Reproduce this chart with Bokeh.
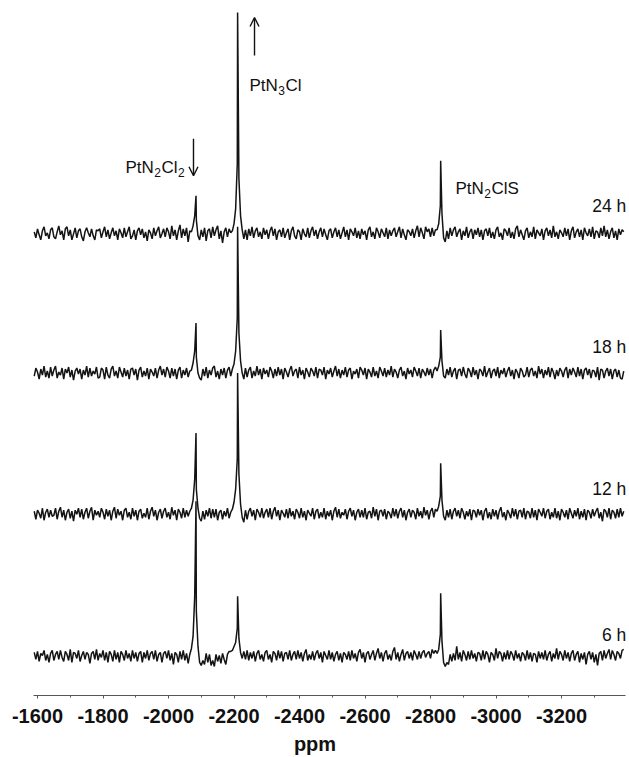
import numpy as np
from bokeh.plotting import figure
from bokeh.models import Range1d, FixedTicker, Arrow, OpenHead
from bokeh.core.properties import value
from bokeh.embed import file_html
from bokeh.resources import INLINE

# ---------------- data ----------------
ppm_first = -1590
ppm_step = -5

noise_24 = [2, -4, 5, -1, -6, 3, 7, -2, 1, -5,
            4, 6, -3, -5, 2, 8, -1, 3, -6, 5,
            7, -2, 4, -6, 0, 6, -4, 3, 5, -3,
            -7, 2, 6, 1, -3, 5, -2, -6, 4, 3,
            5, -4, 2, 7, -3, 4, -5, 1, 6, -2,
            3, -6, 5, 1, -4, 6, -3, 2, 7, -5,
            -2, 4, -6, 3, 6, -1, 5, -4, 2, -7,
            4, 1, -5, 6, -2, 3, 7, -4, 0, 5,
            -3, 6, 2, -5, 8, -2, 4, -6, 3, 9,
            -4, 5, -2, 6, -8, 3, 2, 8, 18, 14,
            -2, -6, 4, -3, 6, -7, 3, 5, -4, 7,
            -2, 4, 8, -5, 3, -9, 2, 6, -3, 5,
            1, 3, 10, 25, 70, 55, 18, 4, -5, 4,
            -6, 5, -2, 7, -4, 3, 6, -3, 2, -5,
            6, -1, 4, -5, 3, 7, -2, 5, -6, 2,
            4, -3, 6, -4, 1, 5, -6, 3, 7, -2,
            -5, 4, 2, -6, 5, 0, -3, 6, -4, 3,
            7, -2, 4, -5, 2, 6, -3, 5, -1, -6,
            3, 5, -4, 2, 6, -3, 4, -5, 1, 7,
            -3, 4, -6, 5, 2, -2, 6, -4, 3, -5,
            5, -1, 3, -6, 4, 7, -3, 2, -5, 6,
            2, -4, 5, 1, -3, 6, -5, 4, -2, 3,
            6, -3, 2, 7, -4, 5, -1, -6, 4, 2,
            -2, 5, -4, 3, 8, -3, 6, 1, -5, 7,
            2, 5, -3, 6, -2, 4, 4, 10, 28, 20,
            -4, -8, 3, -5, 6, -2, 4, 7, -3, 2,
            5, -6, 3, -2, 7, -4, 2, 5, -5, 4,
            -1, 6, -3, 4, -6, 3, 5, -2, 6, -4,
            2, -5, 4, 7, -3, 1, -6, 5, 3, -2,
            6, -4, 2, -5, 5, 8, -3, 4, -1, -6,
            3, 6, -4, 2, -3, 7, -5, 4, 1, -2,
            5, -6, 3, 6, -2, 4, -4, 8, -3, 2,
            -5, 4, 1, -3, 6, -2, 5, -6, 3, 7,
            -4, 2, 5, -3, 4, -6, 6, 1, -2, 5,
            -3, 7, -5, 3, 2, -4, 6, -2, 8, -3,
            4, -5, 2, 6, -4, 3, -6, 5, -1, 4,
            2]

noise_18 = [-3, 5, 1, -6, 4, -2, 7, -4, 2, -5,
            6, -3, 3, 7, -5, 1, -2, 5, -6, 4,
            0, 6, -4, 3, -7, 2, 5, -1, 4, -6,
            3, -2, 7, -4, 5, -3, 2, -1, 6, -5,
            -4, 5, 3, -6, 6, -2, -5, 4, 7, -3,
            2, -5, 6, 1, -4, 5, -3, 3, -6, 4,
            5, -2, 4, -7, 3, 6, -4, 2, -3, 5,
            -6, 4, 1, -3, 5, -5, 3, 7, -2, 4,
            -4, 6, 2, -5, 5, -3, 4, -6, 3, 6,
            -5, 3, -2, 5, -4, 2, 3, 10, 22, 16,
            0, -5, -7, 4, -3, 6, -5, 3, -2, 5,
            7, -4, 2, -6, 4, -2, 5, -5, 3, 6,
            -3, 4, 9, 22, 55, 40, 12, 0, -6, 5,
            -4, 3, 6, -5, 2, -3, 7, -2, 4, -6,
            5, -1, 3, -4, 6, 2, -5, 4, -3, 6,
            -2, 4, -6, 5, 1, -4, 3, 7, -3, 2,
            4, -5, 6, -2, 3, -6, 5, 1, -4, 5,
            2, -3, 6, -5, 4, 3, -2, 6, -6, 3,
            -1, 5, -4, 2, 7, -3, 4, -5, 3, -2,
            6, -4, 3, 5, -6, 2, -1, 4, -5, 6,
            3, -2, 5, -6, 4, 1, -4, 6, -3, 2,
            -5, 6, 2, -3, 5, -4, 3, -2, 7, -4,
            4, 1, -5, 3, 6, -3, 2, -6, 5, -1,
            3, -4, 6, 2, -3, 5, -5, 4, 1, -3,
            5, -2, 4, -5, 3, 6, 2, 7, 16, 12,
            -3, -5, 4, -2, 6, -4, 2, 5, -6, 3,
            4, -3, 6, -1, -5, 5, 2, -4, 6, -2,
            3, -6, 4, 2, -3, 7, -4, 1, 5, -5,
            2, 4, -3, 6, -5, 3, -1, 5, -4, 2,
            6, -3, 3, -6, 4, 1, -5, 5, 2, -4,
            -2, 6, -4, 3, 5, -3, 2, -5, 7, -1,
            4, -5, 3, -2, 6, -4, 5, 1, -6, 3,
            -3, 5, 2, -4, 3, 6, -5, 4, -2, 5,
            1, -4, 6, -3, 4, -6, 3, 5, -2, 4,
            -5, 3, 2, -4, 6, -7, 4, 3, -5, 2,
            5, -3, 4, -6, 2, 4, -4, 3, -5, -6,
            2]

noise_12 = [3, -5, 4, 1, -4, 6, -6, 2, 5, -3,
            4, -2, -1, 6, -5, 3, 7, -3, 4, -6,
            2, 5, -4, 3, -7, 4, 0, 6, -3, 5,
            -5, 2, 6, -4, 3, 7, -6, 4, -1, 3,
            -3, 6, 2, -5, 5, -2, 4, -6, 3, 7,
            -4, 5, -1, 3, -6, 4, 6, -3, 2, -5,
            6, -2, 4, -6, 3, 5, -4, 1, -3, 6,
            -5, 3, 7, -2, 4, -6, 2, 5, -4, 3,
            6, -3, 2, -5, 7, -1, 4, -6, 5, 2,
            -4, 6, -3, 4, -2, 3, 6, 14, 35, 25,
            6, -4, -7, 3, -5, 4, -2, 6, -4, 5,
            -3, 5, -6, 2, 4, -5, 3, -2, 6, -4,
            2, 5, 12, 25, 55, 40, 10, -3, -8, 4,
            -5, 3, 6, -2, 4, -6, 5, 2, -3, 6,
            -4, 2, 5, -3, 6, -5, 3, 7, -2, 4,
            -6, 4, 1, -3, 5, -4, 6, -2, 3, -5,
            5, 2, -4, 6, -3, 3, -6, 4, 1, -2,
            6, -5, 3, 5, -4, 2, -3, 6, -5, 3,
            -2, 4, -6, 3, 7, -3, 5, -4, 2, -1,
            5, -5, 3, 6, -2, 4, -6, 2, 5, -3,
            4, -3, 6, -5, 2, 3, -4, 7, -2, 5,
            -6, 3, 4, -2, 5, -5, 3, 1, -4, 6,
            -2, 5, -4, 3, 6, -3, 4, -6, 2, 5,
            -3, 4, 2, -5, 6, -2, 3, -4, 7, -1,
            4, -5, 3, 6, -3, 5, 3, 8, 18, 14,
            -2, -6, 4, -3, 5, -5, 3, 6, -2, 4,
            -4, 6, 2, -5, 3, -2, 5, -6, 4, 3,
            -3, 5, -1, 4, -6, 3, 6, -4, 2, -5,
            5, -2, 4, -5, 3, 7, -3, 2, -6, 4,
            1, -4, 6, -2, 5, -5, 3, 4, -3, 6,
            -5, 3, 2, -4, 6, -3, 4, -6, 5, 2,
            -2, 6, -4, 3, 5, -5, 2, -3, 6, -4,
            3, -6, 5, 2, -3, 4, -5, 6, 1, -4,
            4, -2, 6, -5, 3, -3, 5, -6, 4, 2,
            -4, 5, -2, 3, 6, -4, 2, -7, 5, 3,
            -3, 6, -5, 4, 2, -4, 5, -3, 6, -2,
            3]

noise_6 = [4, -3, 5, -5, 3, 1, 6, -4, 2, -6,
           3, 6, -4, 2, 5, -3, 6, -1, -5, 5,
           2, -4, 7, -6, 4, 3, -2, 6, -5, 1,
           5, -3, 4, 2, -7, 3, 5, -3, 7, -4,
           3, -1, 6, -4, 4, -6, 5, 2, -5, 6,
           -3, 4, -6, 5, 2, -4, 6, -2, 3, -5,
           6, -2, 4, -5, 3, 5, -6, 4, -2, 6,
           -4, 3, 5, -3, 6, -5, 2, 4, -6, 3,
           5, -2, 6, -4, 3, -8, 4, 2, -6, 5,
           -3, 6, -4, 3, -7, 2, 8, 20, 60, 45,
           10, -6, -9, -4, -8, 3, -6, 2, -9, -4,
           -10, 2, -5, 1, -7, 3, -3, -8, 2, 5,
           5, 6, 10, 14, 28, 18, 4, -2, 5, -3,
           6, -4, 4, -2, 5, -5, 3, 6, -3, 2,
           -5, 4, 6, -3, 2, -6, 5, 3, -4, 6,
           -2, 5, -5, 3, 4, -3, 6, -4, 2, 5,
           -3, 6, -2, 4, -5, 3, 7, -4, 2, -3,
           5, -4, 3, 6, -2, 4, -6, 5, 1, -3,
           6, -3, 4, -5, 2, 5, -4, 3, -6, 4,
           2, -3, 5, -4, 6, -2, 3, -5, 4, 7,
           -2, 4, -6, 3, 5, -3, 2, 6, -4, 3,
           8, -2, 4, -5, 3, 6, -3, 2, -4, 5,
           9, -3, 4, -5, 2, 7, -4, 3, 5, -2,
           4, -4, 6, 2, -3, 5, -2, 4, 6, -1,
           3, 5, -2, 7, 3, 6, 3, 7, 22, 15,
           -6, -10, -6, -8, 2, -5, 3, -4, 10, -3,
           4, -5, 6, 2, -4, 5, -3, 6, -2, 3,
           -5, 4, 3, -4, 6, -3, 5, 2, -6, 4,
           2, -4, 8, -2, 5, 3, -5, 4, -3, 6,
           -3, 5, 2, -4, 6, -2, 3, -5, 4, 2,
           -4, 6, -3, 4, -5, 3, 2, -6, 5, -2,
           4, -3, 6, -4, 2, 5, -5, 3, -2, 8,
           -3, 5, 2, -4, 6, -2, 4, -5, 3, 6,
           -4, 2, 5, -6, 3, -3, 4, -8, 2, 5,
           -3, 4, -6, 2, -9, 3, 5, -4, 6, -2,
           3, 7, -3, 6, 2, -4, 5, 3, -2, 6,
           7]

# peak apexes (ppm): PtN2Cl2, PtN3Cl, PtN2ClS
peak_ppm = [-2084, -2211, -2831]
peaks_24 = [38, 221, 73]
peaks_18 = [50, 146, 43]
peaks_12 = [81, 141, 51]
peaks_6 = [155, 60, 63]

trace_names = ["24 h", "18 h", "12 h", "6 h"]
trace_noise = [noise_24, noise_18, noise_12, noise_6]
trace_peaks = [peaks_24, peaks_18, peaks_12, peaks_6]
trace_offset = [461, 322, 181, 39]

tick_values = [-1600, -1800, -2000, -2200, -2400, -2600, -2800, -3000, -3200]
tick_labels = ["-1600", "-1800", "-2000", "-2200", "-2400", "-2600", "-2800", "-3000", "-3200"]
minor_values = [-1700, -1900, -2100, -2300, -2500, -2700, -2900, -3100, -3300]

# ---------------- figure ----------------
p = figure(width=629, height=757,
           x_range=Range1d(-1487.0, -3407.6), y_range=Range1d(0, 694),
           output_backend="svg", toolbar_location=None,
           y_axis_location=None, min_border=0)
p.min_border_left = 0
p.min_border_right = 0
p.min_border_top = 0
p.outline_line_color = None
p.xgrid.visible = False
p.ygrid.visible = False
p.background_fill_color = "white"
p.border_fill_color = "white"

for name, noise, peaks, off in zip(trace_names, trace_noise, trace_peaks, trace_offset):
    grid = ppm_first + ppm_step * np.arange(len(noise))
    xs = np.concatenate([grid, np.array(peak_ppm, dtype=float)])
    ys = np.concatenate([np.array(noise, dtype=float), np.array(peaks, dtype=float)])
    order = np.argsort(-xs, kind="stable")
    p.line(xs[order], ys[order] + off, line_color="#141414", line_width=1.5)

# axis
ax = p.xaxis[0]
ax.ticker = FixedTicker(ticks=tick_values, minor_ticks=minor_values)
ax.bounds = (-3395, -1588)
ax.axis_line_color = "#555555"
ax.axis_line_width = 1.2
ax.major_tick_in = 0
ax.major_tick_out = 3
ax.minor_tick_in = 0
ax.minor_tick_out = 2
ax.major_tick_line_color = "#555555"
ax.minor_tick_line_color = "#555555"
ax.major_label_text_font = "Liberation Sans"
ax.major_label_text_font_size = "20px"
ax.major_label_text_font_style = "bold"
ax.major_label_text_color = "#111111"
ax.major_label_standoff = 10
ax.major_label_overrides = dict(zip(tick_values, tick_labels))
ax.axis_label = "ppm"
ax.axis_label_text_font = "Liberation Sans"
ax.axis_label_text_font_size = "20px"
ax.axis_label_text_font_style = "bold"
ax.axis_label_text_color = "#111111"
ax.axis_label_standoff = 7

# peak labels with subscripts
char_w = {"P": 0.667, "t": 0.278, "N": 0.722, "C": 0.722, "l": 0.222,
          "S": 0.667, "2": 0.556, "3": 0.556}
MAIN = 17
SUB = 12


def sub_label(x, y, parts):
    off = 0.0
    main_x, main_t, main_o = [], [], []
    sub_x, sub_t, sub_o = [], [], []
    for txt, is_sub in parts:
        size = SUB if is_sub else MAIN
        if is_sub:
            sub_x.append(x); sub_t.append(txt); sub_o.append(off)
        else:
            main_x.append(x); main_t.append(txt); main_o.append(off)
        off += sum(char_w[c] for c in txt) * size + 0.5
    p.text(x=main_x, y=[y] * len(main_x), text=main_t, x_offset=main_o,
           text_font=value("Liberation Sans"), text_font_size="17px",
           text_color="#111111", text_baseline="alphabetic", text_align="left")
    p.text(x=sub_x, y=[y] * len(sub_x), text=sub_t, x_offset=sub_o, y_offset=5,
           text_font=value("Liberation Sans"), text_font_size="12px",
           text_color="#111111", text_baseline="alphabetic", text_align="left")


sub_label(-1868.7, 527, [("PtN", False), ("2", True), ("Cl", False), ("2", True)])
sub_label(-2247.3, 609, [("PtN", False), ("3", True), ("Cl", False)])
sub_label(-2876.3, 506, [("PtN", False), ("2", True), ("ClS", False)])

# arrows
p.add_layout(Arrow(end=OpenHead(size=9, line_width=1.4, line_color="#111111"),
                   x_start=-2076.3, y_start=556, x_end=-2076.3, y_end=519,
                   line_width=1.4, line_color="#111111"))
p.add_layout(Arrow(end=OpenHead(size=9, line_width=1.4, line_color="#111111"),
                   x_start=-2262.6, y_start=639, x_end=-2262.6, y_end=677,
                   line_width=1.4, line_color="#111111"))

# time labels
p.text(x=[-3398] * 4, y=[489, 348, 206, 60], text=trace_names,
       text_font=value("Liberation Sans"), text_font_size="17.5px",
       text_color="#111111", text_baseline="alphabetic", text_align="right")

open("out.html", "w").write(file_html(p, INLINE))
